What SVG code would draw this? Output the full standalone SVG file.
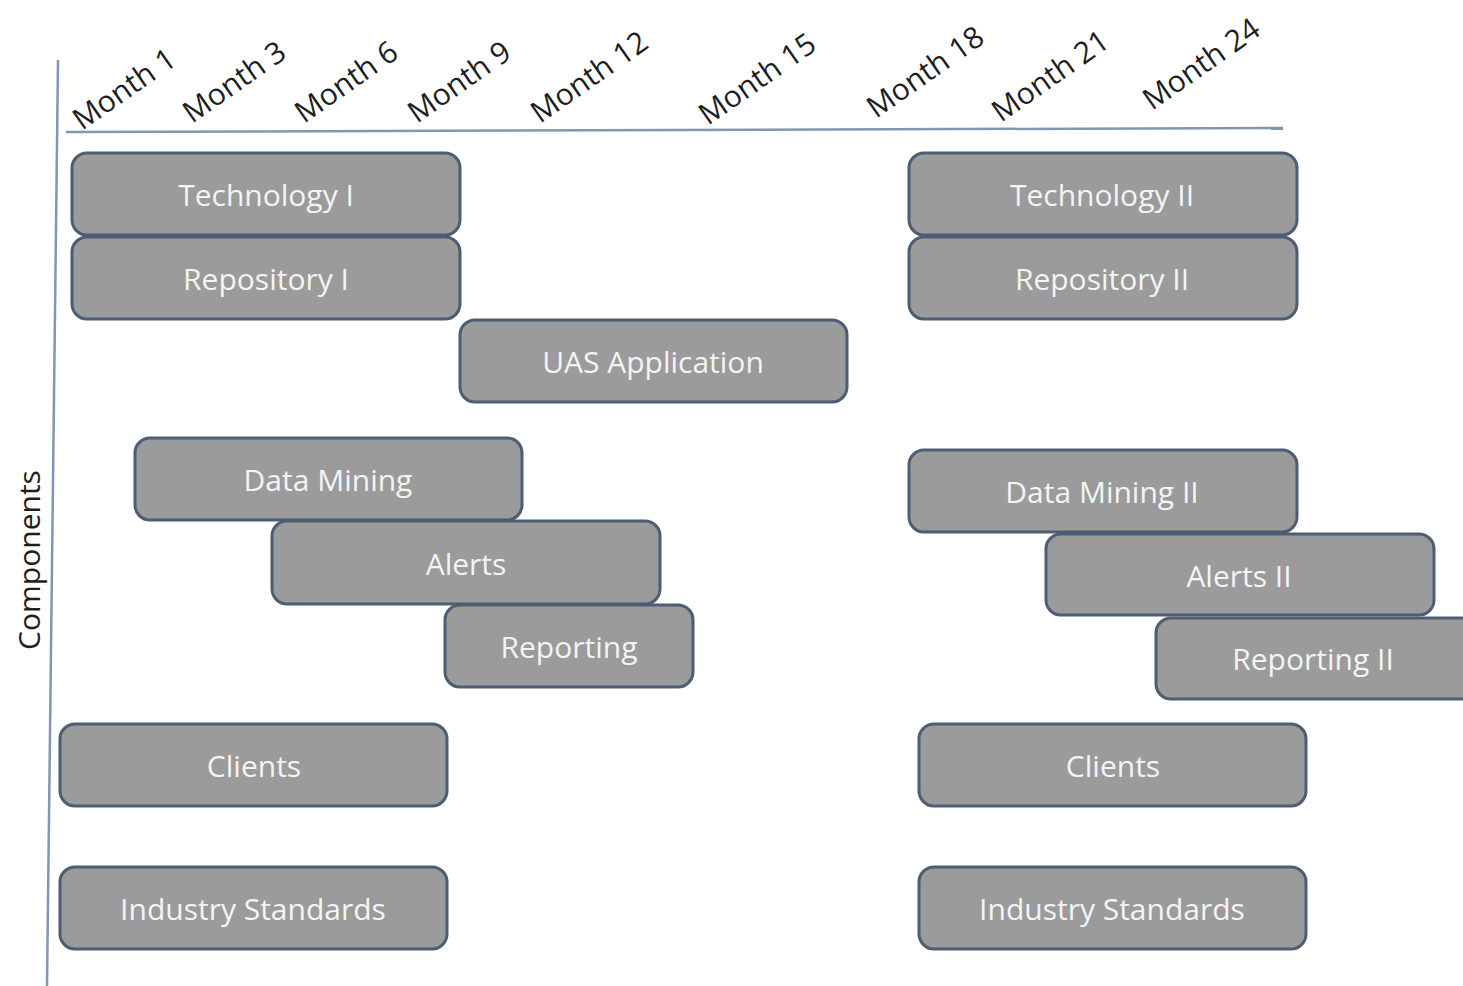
<svg xmlns="http://www.w3.org/2000/svg" width="1463" height="986" viewBox="0 0 1463 986">
<style>
.box{fill:#9b9b9b;stroke:#4d5d72;stroke-width:3}
.bl{font-family:"Open Sans","Liberation Sans",sans-serif;font-size:30px;fill:#f4f4f4;text-anchor:middle;dominant-baseline:central}
.mo{font-family:"Open Sans","Liberation Sans",sans-serif;font-size:30px;fill:#1e1e1e}
.ax{stroke:#8196b3;stroke-width:2.5;fill:none}
</style>
<rect width="1463" height="986" fill="#ffffff"/>
<g id="axes">
<line class="ax" x1="58" y1="60" x2="47" y2="986"/>
<line class="ax" x1="66" y1="132" x2="1283" y2="128"/>
<text class="mo" transform="translate(28,560) rotate(-90)" text-anchor="middle" dominant-baseline="central">Components</text>
</g>
<g id="months">
<text class="mo" transform="translate(82,131) rotate(-35)">Month 1</text>
<text class="mo" transform="translate(192,124) rotate(-35)">Month 3</text>
<text class="mo" transform="translate(304,124) rotate(-35)">Month 6</text>
<text class="mo" transform="translate(417,124) rotate(-35)">Month 9</text>
<text class="mo" transform="translate(540,124) rotate(-35)">Month 12</text>
<text class="mo" transform="translate(708,126) rotate(-35)">Month 15</text>
<text class="mo" transform="translate(876,119) rotate(-35)">Month 18</text>
<text class="mo" transform="translate(1001,123) rotate(-35)">Month 21</text>
<text class="mo" transform="translate(1152,111) rotate(-35)">Month 24</text>
</g>
<g id="connectors"></g>
<g id="tech1"><rect class="box" x="72" y="153" width="388" height="82" rx="15"/><text class="bl" x="266" y="194">Technology I</text></g>
<g id="repo1"><rect class="box" x="72" y="237" width="388" height="82" rx="15"/><text class="bl" x="266" y="278">Repository I</text></g>
<g id="uas"><rect class="box" x="460" y="320" width="387" height="82" rx="15"/><text class="bl" x="653" y="361">UAS Application</text></g>
<g id="datamining1"><rect class="box" x="135" y="438" width="387" height="82" rx="15"/><text class="bl" x="328" y="479">Data Mining</text></g>
<g id="alerts1"><rect class="box" x="272" y="521" width="388" height="83" rx="15"/><text class="bl" x="466" y="563">Alerts</text></g>
<g id="reporting1"><rect class="box" x="445" y="605" width="248" height="82" rx="15"/><text class="bl" x="569" y="646">Reporting</text></g>
<g id="clients1"><rect class="box" x="60" y="724" width="387" height="82" rx="15"/><text class="bl" x="254" y="765">Clients</text></g>
<g id="standards1"><rect class="box" x="60" y="867" width="387" height="82" rx="15"/><text class="bl" x="253" y="908">Industry Standards</text></g>
<g id="tech2"><rect class="box" x="909" y="153" width="388" height="82" rx="15"/><text class="bl" x="1102" y="194">Technology II</text></g>
<g id="repo2"><rect class="box" x="909" y="237" width="388" height="82" rx="15"/><text class="bl" x="1102" y="278">Repository II</text></g>
<g id="datamining2"><rect class="box" x="909" y="450" width="388" height="82" rx="15"/><text class="bl" x="1102" y="491">Data Mining II</text></g>
<g id="alerts2"><rect class="box" x="1046" y="534" width="388" height="81" rx="15"/><text class="bl" x="1239" y="575">Alerts II</text></g>
<g id="reporting2"><rect class="box" x="1156" y="618" width="320" height="81" rx="15"/><text class="bl" x="1313" y="658">Reporting II</text></g>
<g id="clients2"><rect class="box" x="919" y="724" width="387" height="82" rx="15"/><text class="bl" x="1113" y="765">Clients</text></g>
<g id="standards2"><rect class="box" x="919" y="867" width="387" height="82" rx="15"/><text class="bl" x="1112" y="908">Industry Standards</text></g>
</svg>
